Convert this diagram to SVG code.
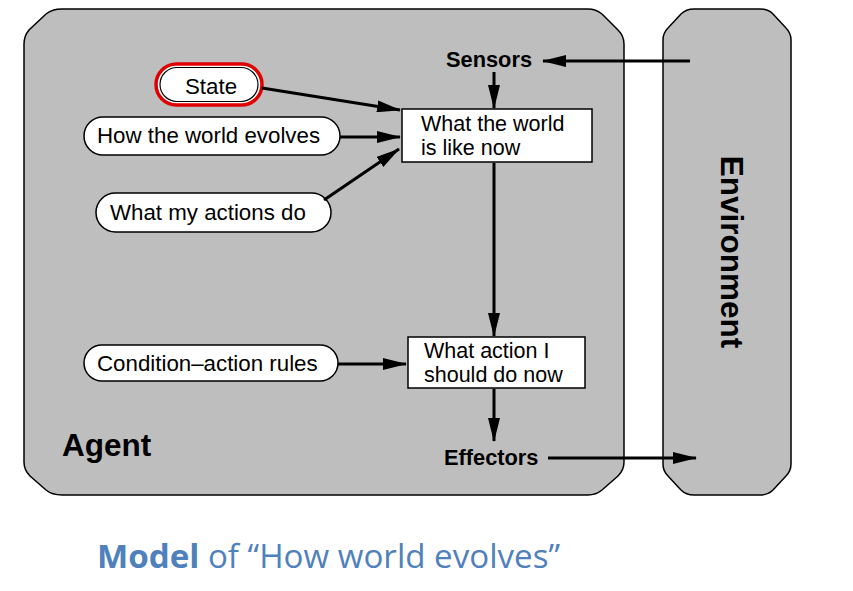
<svg xmlns="http://www.w3.org/2000/svg" width="853" height="591" viewBox="0 0 853 591">
<style>
.frame{fill:#bebebe;stroke:#000;stroke-width:1.5}
.pill{fill:#fff;stroke:#000;stroke-width:1.5}
.box{fill:#fff;stroke:#000;stroke-width:1.5}
.lbl{font-family:"Liberation Sans",Arial,sans-serif;font-size:22.3px;fill:#000}
.bl{font-family:"Liberation Sans",Arial,sans-serif;font-size:21.5px;fill:#000}
.bold{font-family:"Liberation Sans",Arial,sans-serif;font-weight:bold;fill:#000}
.conn{stroke:#000;stroke-width:3;fill:none;marker-end:url(#ah)}
</style>
<defs>
<marker id="ah" markerUnits="userSpaceOnUse" markerWidth="24" markerHeight="12" refX="23" refY="6" orient="auto">
<path d="M0,0 L24,6 L0,12 Z" fill="#000"/>
</marker>
</defs>
<rect width="853" height="591" fill="#fff"/>
<g id="agent">
<path class="frame" d="M24,44 Q24,36 29,30 L46,14 Q52,9 62,9 L588,9 Q596,9 602,14 L618,30 Q624,36 624,44 L624,462 Q624,470 618,476 L602,490 Q596,495 588,495 L62,495 Q52,495 46,490 L30,476 Q24,470 24,462 Z"/>
<text class="bold" x="62" y="456" font-size="31.5px">Agent</text>
</g>
<g id="environment">
<path class="frame" d="M663,40 Q663,33 668,28 L681,14 Q686,9 694,9 L760,9 Q768,9 773,14 L786,28 Q791,33 791,40 L791,464 Q791,471 786,476 L773,490 Q768,495 760,495 L694,495 Q686,495 681,490 L668,476 Q663,471 663,464 Z"/>
<text class="bold" font-size="31.5px" text-anchor="middle" transform="translate(721,252) rotate(90)">Environment</text>
</g>
<g id="sensors">
<text class="bold" x="446" y="67" font-size="21.8px">Sensors</text>
</g>
<g id="effectors">
<text class="bold" x="444" y="465" font-size="21.8px">Effectors</text>
</g>
<g id="state">
<rect x="156" y="64" width="106" height="41" rx="20.5" fill="#fff" stroke="#e00000" stroke-width="3.5"/>
<rect x="160" y="67.5" width="98" height="34" rx="17" fill="none" stroke="#000" stroke-width="1.2"/>
<text class="lbl" x="211" y="94" text-anchor="middle">State</text>
</g>
<g id="how-world-evolves">
<rect class="pill" x="84" y="117" width="256" height="38" rx="19"/>
<text class="lbl" x="97" y="143">How the world evolves</text>
</g>
<g id="what-my-actions-do">
<rect class="pill" x="96" y="193" width="235" height="39" rx="19.5"/>
<text class="lbl" x="110" y="220">What my actions do</text>
</g>
<g id="world-now">
<rect class="box" x="402" y="109" width="190" height="53"/>
<text class="bl" x="421" y="131">What the world</text>
<text class="bl" x="421" y="155">is like now</text>
</g>
<g id="condition-action-rules">
<rect class="pill" x="84" y="345" width="254" height="36" rx="18"/>
<text class="lbl" x="97" y="371">Condition–action rules</text>
</g>
<g id="action-now">
<rect class="box" x="408" y="337" width="177" height="51"/>
<text class="bl" x="424" y="358">What action I</text>
<text class="bl" x="424" y="382">should do now</text>
</g>
<g id="connectors">
<path class="conn" d="M690,61 L543,61"/>
<path class="conn" d="M494,72 L494,108"/>
<path class="conn" d="M262,88 L400,110"/>
<path class="conn" d="M340,137 L400,137"/>
<path class="conn" d="M324,200 L399,149"/>
<path class="conn" d="M494,163 L494,336"/>
<path class="conn" d="M338,364 L406,364"/>
<path class="conn" d="M494,389 L494,441"/>
<path class="conn" d="M548,458 L696,458"/>
</g>
<g id="title">
<text x="97" y="568" font-family="'Open Sans','Liberation Sans',Arial,sans-serif" font-size="33px" fill="#4f81bd" textLength="463" lengthAdjust="spacingAndGlyphs"><tspan font-weight="bold">Model</tspan> of “How world evolves”</text>
</g>
</svg>
